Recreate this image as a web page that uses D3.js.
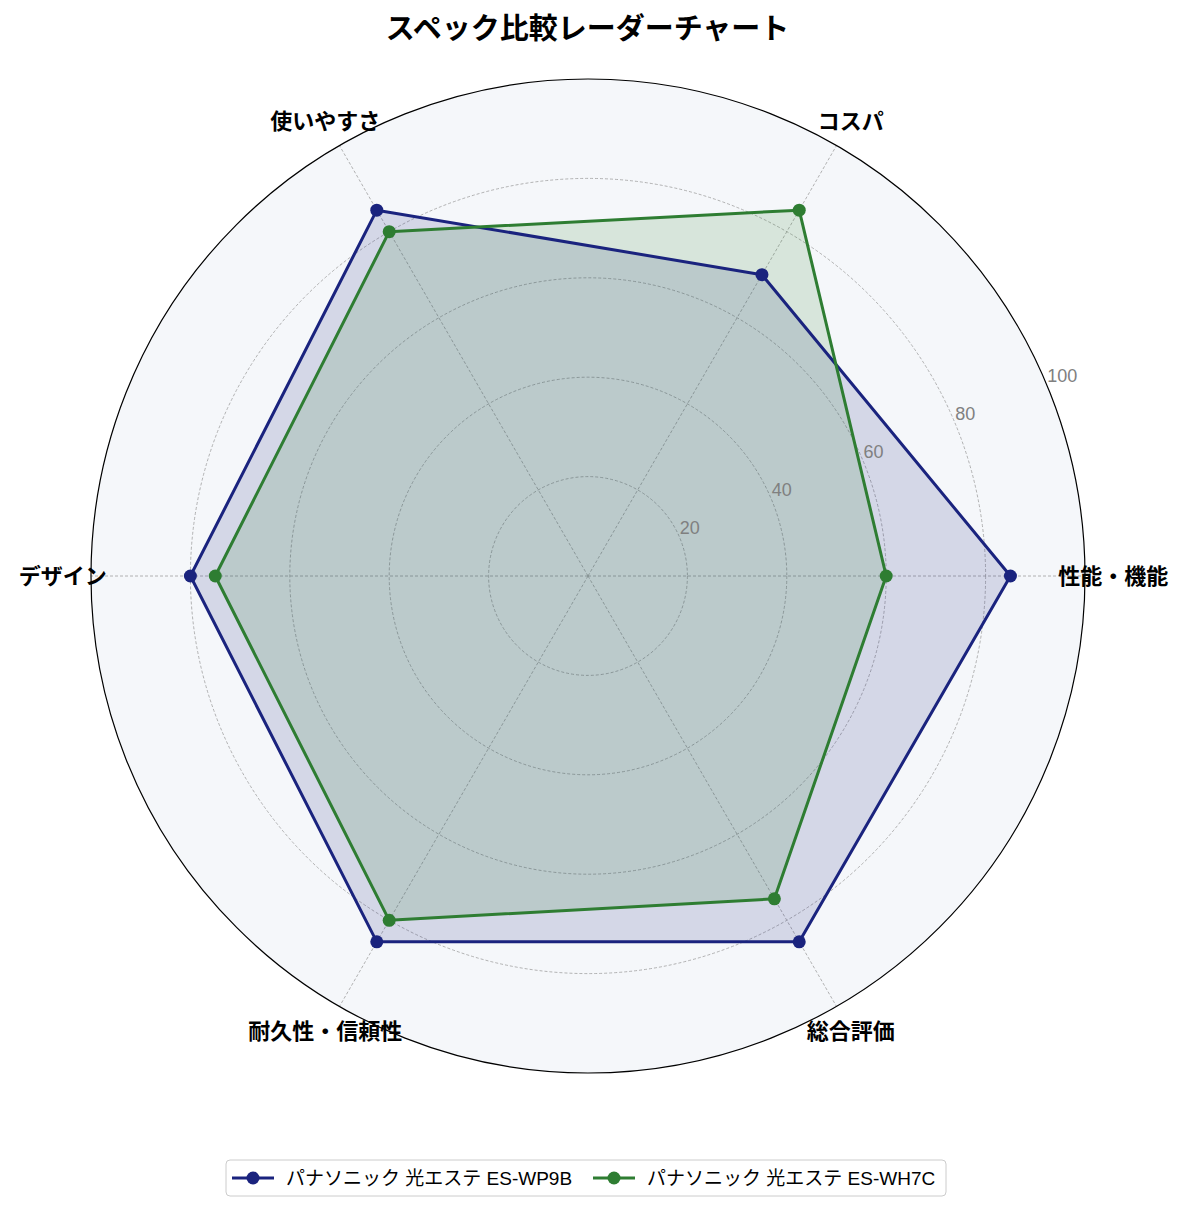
<!DOCTYPE html>
<html>
<head>
<meta charset="utf-8">
<script src="https://cdn.jsdelivr.net/npm/d3@7"></script>
<style>
  body { margin: 0; background: #fff; }
  text { font-family: "Liberation Sans", "Noto Sans CJK JP", sans-serif; }
</style>
</head>
<body>
<div id="chart"></div>
<script>
// chart data
let categories = ['性能・機能', 'コスパ', '使いやすさ', 'デザイン', '耐久性・信頼性', '総合評価'];
let series_names = ['パナソニック 光エステ ES-WP9B', 'パナソニック 光エステ ES-WH7C'];
let values_wp9b = [85, 70, 85, 80, 85, 85];
let values_wh7c = [60, 85, 80, 75, 80, 75];
let r_ticks = [20, 40, 60, 80, 100];
let colors = ['#1a237e', '#2e7d32'];

let svg_width = 1185;
let svg_height = 1211;
let cx = 588, cy = 576, radius = 497;

let svg = d3.select('#chart').append('svg')
  .attr('width', svg_width)
  .attr('height', svg_height);

// title
svg.append('text')
  .attr('x', svg_width / 2 - 5)
  .attr('y', 39)
  .attr('text-anchor', 'middle')
  .attr('font-size', '29px')
  .attr('font-weight', 'bold')
  .text('スペック比較レーダーチャート');

let g = svg.append('g').attr('transform', `translate(${cx}, ${cy})`);

// scales
let rScale = d3.scaleLinear().domain([0, 100]).range([0, radius]);
let angleScale = d3.scaleLinear().domain([0, categories.length]).range([0, 2 * Math.PI]);

// point on the polar plane (counter clockwise, starting at the right)
function pos(i, v) {
  let a = angleScale(i);
  return [rScale(v) * Math.cos(a), -rScale(v) * Math.sin(a)];
}

// background
g.append('circle')
  .attr('r', rScale(100))
  .attr('fill', '#f5f7fa');

// grid rings
g.selectAll('.ring')
  .data(r_ticks.slice(0, -1))
  .enter()
  .append('circle')
  .attr('r', d => rScale(d))
  .attr('fill', 'none')
  .attr('stroke', '#a0a0a0')
  .attr('stroke-width', 0.8)
  .attr('stroke-dasharray', '3,2');

// spokes
g.selectAll('.spoke')
  .data(categories)
  .enter()
  .append('line')
  .attr('x1', 0).attr('y1', 0)
  .attr('x2', (d, i) => pos(i, 100)[0])
  .attr('y2', (d, i) => pos(i, 100)[1])
  .attr('stroke', '#a0a0a0')
  .attr('stroke-width', 0.8)
  .attr('stroke-dasharray', '3,2');

// series
let all_values = [values_wp9b, values_wh7c];
let line = d3.line().curve(d3.curveLinearClosed);

all_values.forEach(function(vals, s) {
  let pts = vals.map((v, i) => pos(i, v));
  g.append('path')
    .attr('d', line(pts))
    .attr('fill', colors[s])
    .attr('fill-opacity', 0.15)
    .attr('stroke', 'none');
});

all_values.forEach(function(vals, s) {
  let pts = vals.map((v, i) => pos(i, v));
  g.append('path')
    .attr('d', line(pts))
    .attr('fill', 'none')
    .attr('stroke', colors[s])
    .attr('stroke-width', 3)
    .attr('stroke-linejoin', 'round');
  g.selectAll('.dot' + s)
    .data(pts)
    .enter()
    .append('circle')
    .attr('cx', d => d[0])
    .attr('cy', d => d[1])
    .attr('r', 6.5)
    .attr('fill', colors[s]);
});

// outer circle
g.append('circle')
  .attr('r', rScale(100))
  .attr('fill', 'none')
  .attr('stroke', '#000')
  .attr('stroke-width', 1.2);

// radial tick labels at 22.5 degrees
let tick_angle = 22.5 * Math.PI / 180;
g.selectAll('.rlabel')
  .data(r_ticks)
  .enter()
  .append('text')
  .attr('x', d => rScale(d) * Math.cos(tick_angle))
  .attr('y', d => -rScale(d) * Math.sin(tick_angle) - 4)
  .attr('font-size', '18px')
  .attr('fill', '#808080')
  .text(d => d);

// category labels
g.selectAll('.clabel')
  .data(categories)
  .enter()
  .append('text')
  .attr('x', (d, i) => 1.057 * pos(i, 100)[0])
  .attr('y', (d, i) => 1.057 * pos(i, 100)[1])
  .attr('dy', '0.35em')
  .attr('text-anchor', 'middle')
  .attr('font-size', '22px')
  .attr('font-weight', 'bold')
  .text(d => d);

// legend
let legend = svg.append('g').attr('transform', 'translate(226, 1160)');
legend.append('rect')
  .attr('width', 720)
  .attr('height', 36)
  .attr('rx', 4)
  .attr('fill', '#fff')
  .attr('stroke', '#cccccc');

let legend_x = [6, 367];
series_names.forEach(function(name, s) {
  let item = legend.append('g').attr('transform', `translate(${legend_x[s]}, 18)`);
  item.append('line')
    .attr('x1', 0).attr('x2', 42)
    .attr('stroke', colors[s])
    .attr('stroke-width', 3);
  item.append('circle')
    .attr('cx', 21)
    .attr('r', 6.5)
    .attr('fill', colors[s]);
  item.append('text')
    .attr('x', 54)
    .attr('dy', '0.35em')
    .attr('font-size', '19px')
    .text(name);
});
</script>
</body>
</html>
